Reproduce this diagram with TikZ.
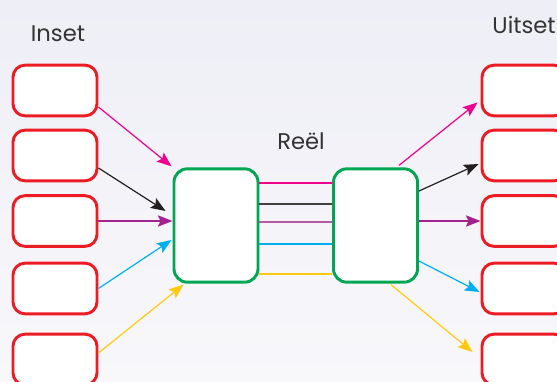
\documentclass[tikz,border=0pt]{standalone}
\usepackage{fontspec}
\setmainfont{Poppins}
\usetikzlibrary{arrows.meta,calc}
\definecolor{bgtop}{HTML}{EEEEF6}
\definecolor{bgbot}{HTML}{F8F8FB}
\definecolor{cred}{HTML}{ED1C24}
\definecolor{cgreen}{HTML}{00A651}
\definecolor{cpink}{HTML}{EC008C}
\definecolor{cblack}{HTML}{231F20}
\definecolor{cpurple}{HTML}{A3238E}
\definecolor{cpurplel}{HTML}{B45AA6}
\definecolor{ccyan}{HTML}{00AEEF}
\definecolor{cyellow}{HTML}{FFC910}
\definecolor{ctext}{HTML}{333333}
\begin{document}
\begin{tikzpicture}[x=0.75pt,y=-0.75pt,
  iobox/.style={draw=cred,fill=white,line width=2.2pt,rounded corners=9pt,minimum width=63pt,minimum height=38pt,inner sep=0pt},
  procbox/.style={draw=cgreen,fill=white,line width=2.2pt,rounded corners=10pt,minimum width=63pt,minimum height=85pt,inner sep=0pt},
  arr/.style={line width=0.9pt,-{Stealth[length=11pt,width=8.5pt,inset=2pt]}},
  link/.style={line width=1.3pt},
  lbl/.style={text=ctext,font=\fontsize{17}{20}\selectfont,inner sep=0pt}]
\useasboundingbox (0,0) rectangle (557,382);
\shade[top color=bgtop,bottom color=bgbot] (0,0) rectangle (557,382);
\begin{scope}
\clip (0,0) rectangle (557,382);
% input boxes
\node[iobox] (L1) at (55,90.5) {};
\node[iobox] (L2) at (55,155.5) {};
\node[iobox] (L3) at (55,221) {};
\node[iobox] (L4) at (55,288.5) {};
\node[iobox] (L5) at (55,359.5) {};
% output boxes
\node[iobox] (R1) at (524,90.5) {};
\node[iobox] (R2) at (524,155.5) {};
\node[iobox] (R3) at (524,221) {};
\node[iobox] (R4) at (524,288.5) {};
\node[iobox] (R5) at (524,359.5) {};
% process boxes
\node[procbox] (G1) at (216,225.5) {};
\node[procbox] (G2) at (375.5,225.5) {};
% links between process boxes
\draw[link,cpink] ($(G1.east)+(0,-42.5)$) -- ($(G2.west)+(0,-42.5)$);
\draw[link,cblack!85] ($(G1.east)+(0,-21.5)$) -- ($(G2.west)+(0,-21.5)$);
\draw[link,cpurplel] ($(G1.east)+(0,-3.5)$) -- ($(G2.west)+(0,-3.5)$);
\draw[link,ccyan] ($(G1.east)+(0,18.5)$) -- ($(G2.west)+(0,18.5)$);
\draw[link,cyellow] ($(G1.east)+(0,48.5)$) -- ($(G2.west)+(0,48.5)$);
% input arrows
\draw[arr,cpink] ($(L1.east)+(0,16.5)$) -- ($(G1.north west)+(-1,-1)$);
\draw[arr,cblack] ($(L2.east)+(0,12.5)$) -- ($(G1.west)+(-7,-14.5)$);
\draw[arr,cpurple] (L3.east) -- (L3.east -| G1.west);
\draw[arr,ccyan] (L4.east) -- ($(G1.west)+(-1,14.5)$);
\draw[arr,cyellow] ($(L5.east)+(0,-6.5)$) -- ($(G1.south west)+(11,1)$);
% output arrows
\draw[arr,cpink] ($(G2.north east)+(-20,-2)$) -- ($(R1.west)+(-3,12)$);
\draw[arr,cblack] ($(G2.east)+(0,-34.5)$) -- ($(R2.west)+(-2,8.5)$);
\draw[arr,cpurple] (G2.east |- R3.west) -- (R3.west);
\draw[arr,ccyan] ($(G2.east)+(0,35.5)$) -- ($(R4.west)+(-1,3.5)$);
\draw[arr,cyellow] ($(G2.south west)+(59,1)$) -- ($(R5.west)+(-8,-7.5)$);
\end{scope}
% labels
\node[lbl,anchor=base] (tin) at (58,41) {Inset};
\node[lbl,anchor=base] (tmid) at (301,149) {Reël};
\node[lbl,anchor=base east] (tout) at (556,33) {Uitset};
\end{tikzpicture}
\end{document}
